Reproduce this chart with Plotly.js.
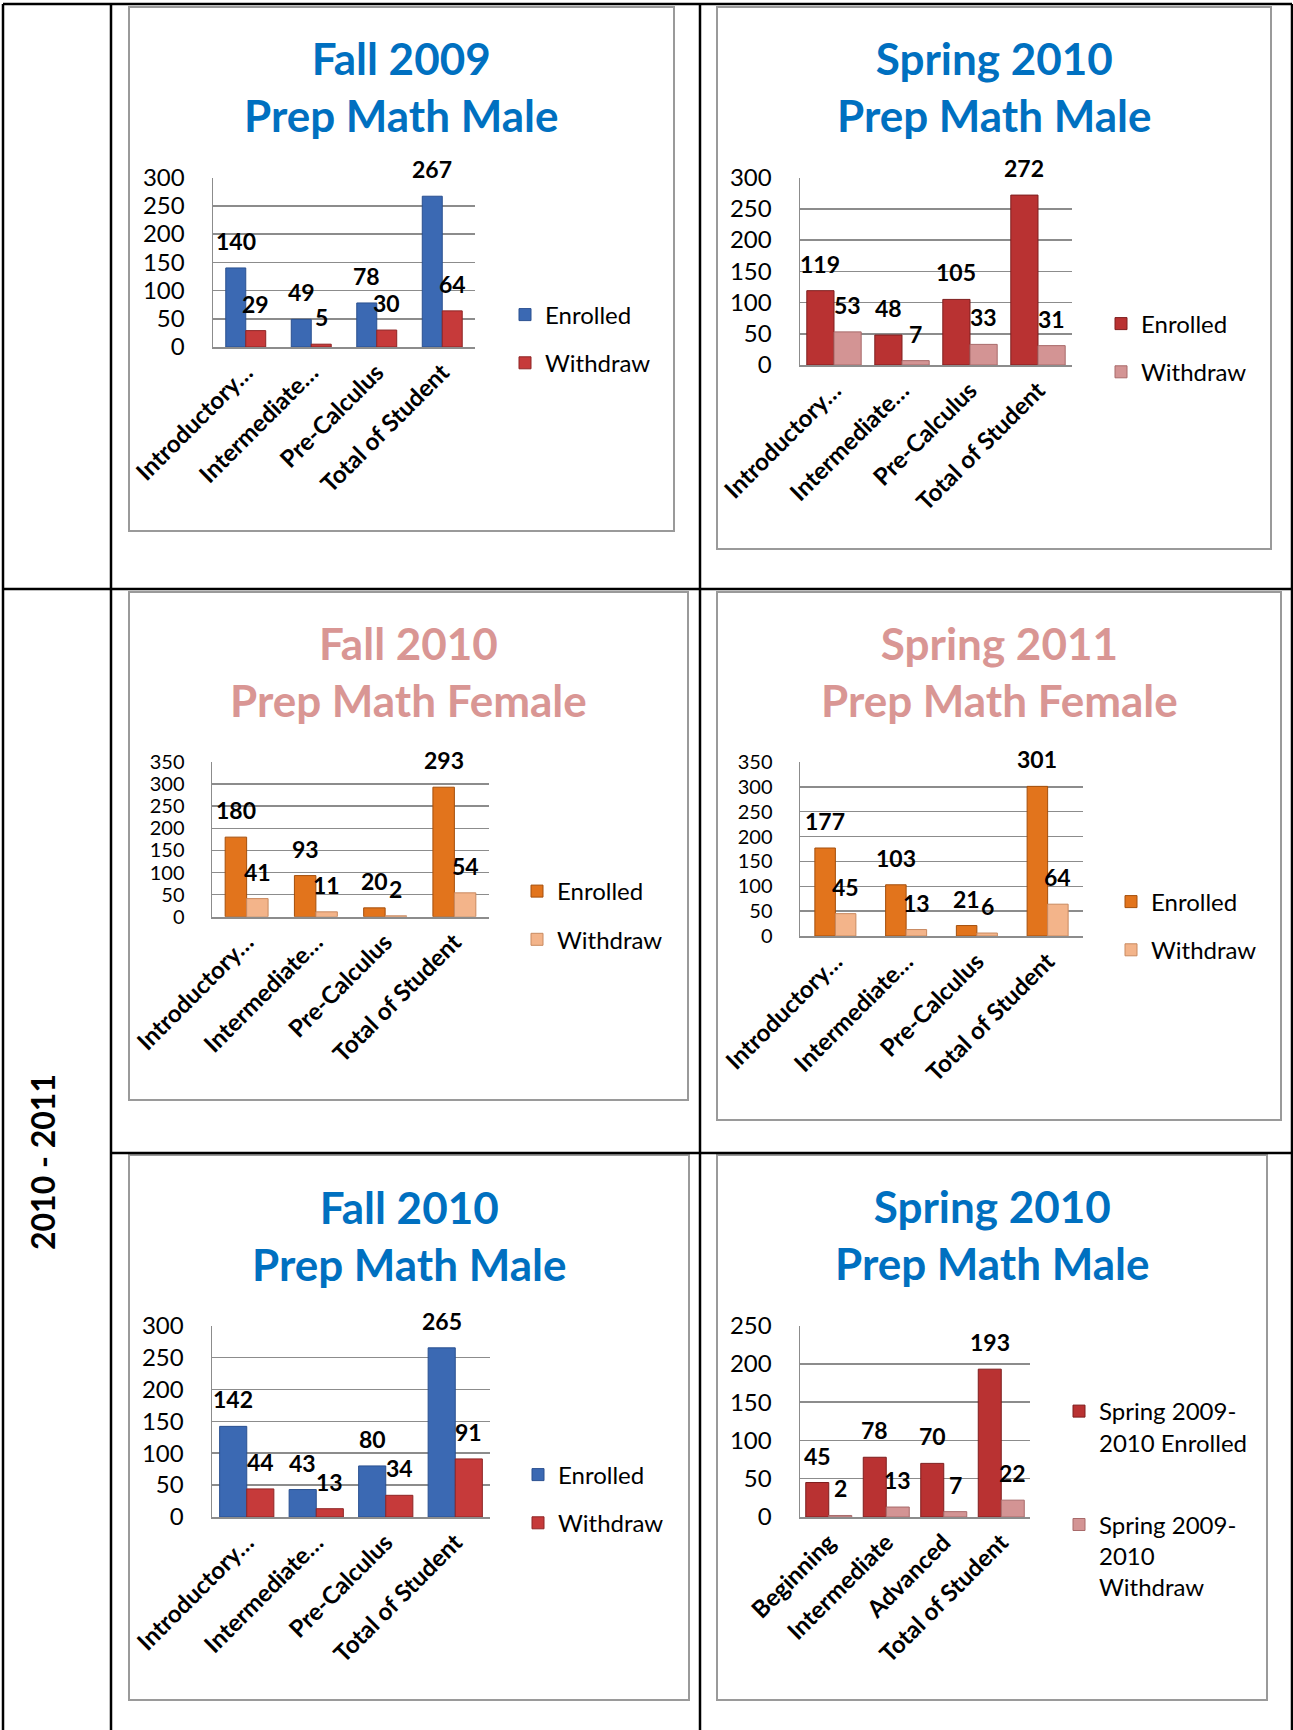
<!DOCTYPE html>
<html><head><meta charset="utf-8">
<script src="https://cdn.plot.ly/plotly-3.0.1.min.js"></script>
<style>html,body{margin:0;padding:0;background:#fff}#chart{width:1293px;height:1730px}</style>
</head><body><div id="chart"></div>
<script>
// ---------- DATA ----------
const catsCourse = ['Introductory…', 'Intermediate…', 'Pre-Calculus', 'Total of Student'];
const catsLevel = ['Beginning', 'Intermediate', 'Advanced', 'Total of Student'];

const fall2009MaleEnrolled = [140, 49, 78, 267];
const fall2009MaleWithdraw = [29, 5, 30, 64];
const spring2010MaleEnrolled = [119, 48, 105, 272];
const spring2010MaleWithdraw = [53, 7, 33, 31];
const fall2010FemaleEnrolled = [180, 93, 20, 293];
const fall2010FemaleWithdraw = [41, 11, 2, 54];
const spring2011FemaleEnrolled = [177, 103, 21, 301];
const spring2011FemaleWithdraw = [45, 13, 6, 64];
const fall2010MaleEnrolled = [142, 43, 80, 265];
const fall2010MaleWithdraw = [44, 13, 34, 91];
const spring2010LevelEnrolled = [45, 78, 70, 193];
const spring2010LevelWithdraw = [2, 13, 7, 22];

const seriesNames = ['Enrolled', 'Withdraw'];
const seriesNamesLevel = ['Spring 2009-<br>2010 Enrolled', 'Spring 2009-<br>2010<br>Withdraw'];

const titles = [
  ['Fall 2009', 'Prep Math Male'],
  ['Spring 2010', 'Prep Math Male'],
  ['Fall 2010', 'Prep Math Female'],
  ['Spring 2011', 'Prep Math Female'],
  ['Fall 2010', 'Prep Math Male'],
  ['Spring 2010', 'Prep Math Male']
];
const sideLabel = '2010 - 2011';

// ---------- LAYOUT / STYLE ----------
const W = 1293, H = 1730;
const px = x => x / W, py = y => 1 - y / H;
const FONT = 'Lato, "Open Sans", sans-serif';
const BLUE = ['#3B69B3', '#C63A3A'], BLUEL = ['#2A5090', '#8E2525'];
const REDS = ['#B93232', '#D39494'], REDSL = ['#7E1E1E', '#A86A6A'];
const ORNG = ['#E2741C', '#F3B48A'], ORNGL = ['#A44F0C', '#C98A60'];
const TBLUE = '#0070C0', TPINK = '#D99694';

const panels = [
  {cats: catsCourse, e: fall2009MaleEnrolled, w: fall2009MaleWithdraw, names: seriesNames, ymax: 300,
   plot: [213, 475, 177.6, 347], bw: 0.305, box: [129, 674, 7, 531], tc: [401.5, 86], tcol: TBLUE,
   leg: [505, 339], gap: 14, col: BLUE, lcol: BLUEL, yfs: 24},
  {cats: catsCourse, e: spring2010MaleEnrolled, w: spring2010MaleWithdraw, names: seriesNames, ymax: 300,
   plot: [800, 1072, 177.6, 365], bw: 0.40, box: [717, 1271, 7, 549], tc: [994, 86], tcol: TBLUE,
   leg: [1101, 348], gap: 14, col: REDS, lcol: REDSL, yfs: 24},
  {cats: catsCourse, e: fall2010FemaleEnrolled, w: fall2010FemaleWithdraw, names: seriesNames, ymax: 350,
   plot: [212, 489, 762, 916.7], bw: 0.31, box: [129, 688, 592, 1100], tc: [408.5, 671], tcol: TPINK,
   leg: [517, 915.5], gap: 14, col: ORNG, lcol: ORNGL, yfs: 20},
  {cats: catsCourse, e: spring2011FemaleEnrolled, w: spring2011FemaleWithdraw, names: seriesNames, ymax: 350,
   plot: [800, 1083, 762, 936], bw: 0.29, box: [717, 1281, 592, 1120], tc: [999, 671], tcol: TPINK,
   leg: [1111, 926], gap: 14, col: ORNG, lcol: ORNGL, yfs: 20},
  {cats: catsCourse, e: fall2010MaleEnrolled, w: fall2010MaleWithdraw, names: seriesNames, ymax: 300,
   plot: [212, 490, 1325.5, 1517], bw: 0.39, box: [129, 689, 1155, 1700], tc: [409, 1235], tcol: TBLUE,
   leg: [518, 1499], gap: 14, col: BLUE, lcol: BLUEL, yfs: 24},
  {cats: catsLevel, e: spring2010LevelEnrolled, w: spring2010LevelWithdraw, names: seriesNamesLevel, ymax: 250,
   plot: [800, 1030, 1325.5, 1517], bw: 0.40, box: [717, 1267, 1155, 1700], tc: [992, 1234], tcol: TBLUE,
   leg: [1059, 1499], gap: 48, col: REDS, lcol: REDSL, valign: 'top', yfs: 24}
];

const traces = [];
const layout = {
  width: W, height: H, margin: {l: 0, r: 0, t: 0, b: 0},
  paper_bgcolor: '#fff', plot_bgcolor: 'rgba(0,0,0,0)',
  barmode: 'overlay', showlegend: true,
  font: {family: FONT, color: '#000'},
  shapes: [], annotations: []
};

panels.forEach((p, k) => {
  const n = k + 1, sx = n === 1 ? '' : String(n);
  const xa = 'x' + sx, ya = 'y' + sx, lg = 'legend' + (n === 1 ? '' : sx);
  [p.e, p.w].forEach((vals, s) => {
    traces.push({
      type: 'bar', x: p.cats, y: vals, name: p.names[s], xaxis: xa, yaxis: ya,
      width: p.bw, offset: s === 0 ? -p.bw : 0,
      marker: {color: p.col[s], line: {color: p.lcol[s], width: 1}},
      legend: lg, legendgroup: 'g' + n + '_' + s, hoverinfo: 'x+y+name'
    });
    vals.forEach((v, i) => {
      layout.annotations.push({
        xref: xa, yref: ya, x: i + (s === 0 ? -p.bw / 2 : p.bw / 2), y: v,
        text: String(v), showarrow: false, yanchor: 'middle', yshift: 27,
        font: {family: FONT, size: 23, weight: 'bold', color: '#000'}
      });
    });
  });
  layout['xaxis' + sx] = {
    domain: [px(p.plot[0]), px(p.plot[1])], anchor: ya, type: 'category',
    categoryorder: 'array', categoryarray: p.cats, range: [-0.5, 3.5],
    showgrid: false, showline: true, linecolor: '#8C8C8C', linewidth: 2,
    ticks: '', tickangle: -45, fixedrange: true,
    tickfont: {family: FONT, size: 24, weight: 'bold', color: '#000'}
  };
  layout['yaxis' + sx] = {
    domain: [py(p.plot[3]), py(p.plot[2])], anchor: xa, range: [0, p.ymax], dtick: 50,
    showgrid: true, gridcolor: '#8C8C8C', gridwidth: 1.5, zeroline: false,
    showline: true, linecolor: '#8C8C8C', linewidth: 1.5, ticks: '', ticklabelstandoff: 22,
    fixedrange: true, tickfont: {family: FONT, size: p.yfs, color: '#000'}
  };
  layout[lg] = {
    x: px(p.leg[0]), y: py(p.leg[1]), xanchor: 'left', yanchor: 'middle',
    xref: 'paper', yref: 'paper', traceorder: 'grouped', tracegroupgap: p.gap,
    valign: p.valign || 'middle', bgcolor: 'rgba(0,0,0,0)', borderwidth: 0,
    font: {family: FONT, size: 24, color: '#000'}
  };
  // chart frame
  layout.shapes.push({type: 'rect', xref: 'paper', yref: 'paper',
    x0: px(p.box[0]), x1: px(p.box[1]), y0: py(p.box[3]), y1: py(p.box[2]),
    line: {color: '#9A9A9A', width: 2}, layer: 'below'});
  // title
  layout.annotations.push({xref: 'paper', yref: 'paper', x: px(p.tc[0]), y: py(p.tc[1]),
    xanchor: 'center', yanchor: 'middle', showarrow: false,
    text: titles[k][0] + '<br>' + titles[k][1],
    font: {family: FONT, size: 44, weight: 'bold', color: p.tcol}});
});

// table grid lines
const tableLines = [
  [3, 4, 1292, 4], [3, 4, 3, 1730], [1292, 4, 1292, 1730], [111, 4, 111, 1730], [700, 4, 700, 1730],
  [3, 589, 1292, 589], [111, 1153, 1292, 1153]
];
tableLines.forEach(l => layout.shapes.push({type: 'line', xref: 'paper', yref: 'paper',
  x0: px(l[0]), y0: py(l[1]), x1: px(l[2]), y1: py(l[3]), line: {color: '#000', width: 2.5}}));

layout.annotations.push({xref: 'paper', yref: 'paper', x: px(42), y: py(1162), textangle: -90,
  text: sideLabel, showarrow: false, xanchor: 'center', yanchor: 'middle',
  font: {family: FONT, size: 32, weight: 'bold', color: '#000'}});

Plotly.newPlot('chart', traces, layout, {staticPlot: true});
</script>
</body></html>
